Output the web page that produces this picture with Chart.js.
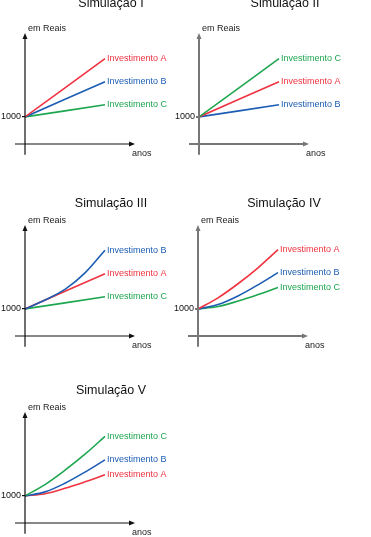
<!DOCTYPE html>
<html>
<head>
<meta charset="utf-8">
<script src="https://cdn.jsdelivr.net/npm/chart.js@4.4.0/dist/chart.umd.min.js"></script>
<style>
  html, body { margin: 0; padding: 0; background: #fff; overflow: hidden; }
  body { width: 371px; height: 537px; position: relative; }
  .box { position: absolute; width: 200px; }
</style>
</head>
<body>
<div class="box" style="left:0px;top:-4px;height:170px"><canvas id="sim1"></canvas></div>
<div class="box" style="left:174px;top:-4px;height:170px"><canvas id="sim2"></canvas></div>
<div class="box" style="left:0px;top:196px;height:162px"><canvas id="sim3"></canvas></div>
<div class="box" style="left:173px;top:196px;height:162px"><canvas id="sim4"></canvas></div>
<div class="box" style="left:0px;top:383px;height:162px"><canvas id="sim5"></canvas></div>
<script>
// years on the x axis (straight lines only need both ends)
const lineYears = [0, 8];
const curveYears = [0, 2, 4, 6, 8];
const yTicks = [1000];
const titles = ['Simulação I', 'Simulação II', 'Simulação III', 'Simulação IV', 'Simulação V'];
const names = ['Investimento A', 'Investimento B', 'Investimento C'];

// values in reais
const sim1A = [1000, 3150];
const sim1B = [1000, 2300];
const sim1C = [1000, 1450];

const sim2A = [1000, 2300];
const sim2B = [1000, 1450];
const sim2C = [1000, 3150];

const sim3A = [1000, 2300];
const sim3B = [1000, 1330, 1720, 2330, 3170];
const sim3C = [1000, 1450];

const sim4A = [1000, 1410, 1930, 2520, 3190];
const sim4B = [1000, 1160, 1480, 1890, 2340];
const sim4C = [1000, 1090, 1290, 1530, 1790];

const sim5A = [1000, 1080, 1280, 1520, 1780];
const sim5B = [1000, 1150, 1470, 1880, 2330];
const sim5C = [1000, 1420, 1950, 2540, 3200];

const red = '#ef3340';
const blue = '#1c5db4';
const green = '#1ea650';
const font = 'Liberation Sans, Arial, sans-serif';

Chart.defaults.font.family = font;

// axes with arrow heads + the small texts
const arrowAxes = {
    id: 'arrowAxes',
    afterDraw(chart, args, opts) {
        const ctx = chart.ctx;
        const xs = chart.scales.x;
        const ys = chart.scales.y;
        const x0 = xs.getPixelForValue(0);
        const y0 = ys.getPixelForValue(0);
        const xl = xs.getPixelForValue(-1);
        const xr = xs.getPixelForValue(11);
        const yt = ys.getPixelForValue(4100);
        const yb = ys.getPixelForValue(-400);
        ctx.save();
        ctx.strokeStyle = opts.color;
        ctx.fillStyle = opts.color;
        ctx.lineWidth = opts.width;
        ctx.beginPath();
        ctx.moveTo(xl, y0);
        ctx.lineTo(xr - 5, y0);
        ctx.moveTo(x0, yb);
        ctx.lineTo(x0, yt + 5);
        ctx.stroke();
        // arrow heads
        ctx.beginPath();
        ctx.moveTo(xr, y0);
        ctx.lineTo(xr - 6, y0 - 2.5);
        ctx.lineTo(xr - 6, y0 + 2.5);
        ctx.closePath();
        ctx.fill();
        ctx.beginPath();
        ctx.moveTo(x0, yt);
        ctx.lineTo(x0 - 2.5, yt + 6);
        ctx.lineTo(x0 + 2.5, yt + 6);
        ctx.closePath();
        ctx.fill();

        ctx.font = '9px ' + font;
        ctx.fillStyle = '#222';
        ctx.textBaseline = 'alphabetic';
        ctx.textAlign = 'left';
        ctx.fillText('em Reais', x0 + 3, yt - 2);
        ctx.fillText('anos', xr - 3, y0 + 12);

        // series names at the end of each line
        ctx.textBaseline = 'middle';
        chart.data.datasets.forEach((ds, i) => {
            const pts = chart.getDatasetMeta(i).data;
            const last = pts[pts.length - 1];
            ctx.fillStyle = ds.borderColor;
            ctx.fillText(ds.label, last.x + 2, last.y);
        });
        ctx.restore();
    }
};

function series(name, color, years, values) {
    return {
        label: name,
        data: years.map((x, i) => ({ x: x, y: values[i] })),
        borderColor: color,
        borderWidth: 1.6,
        pointRadius: 0,
        fill: false,
        tension: 0.35
    };
}

function makeChart(id, title, titleGap, axisColor, axisWidth, datasets) {
    return new Chart(document.getElementById(id), {
        type: 'line',
        data: { datasets: datasets },
        options: {
            responsive: true,
            maintainAspectRatio: false,
            animation: false,
            layout: { padding: { left: 0, right: 3, top: 0, bottom: 22 } },
            plugins: {
                legend: { display: false },
                tooltip: { enabled: false },
                title: {
                    display: true,
                    text: title,
                    fullSize: false,
                    color: '#111',
                    font: { size: 12.5, weight: 'normal', lineHeight: 1.2 },
                    padding: { top: 0, bottom: titleGap }
                },
                arrowAxes: { color: axisColor, width: axisWidth }
            },
            scales: {
                x: { type: 'linear', display: false, min: 0, max: 17.2 },
                y: {
                    type: 'linear',
                    min: 0,
                    max: 4100,
                    afterBuildTicks: s => { s.ticks = yTicks.map(v => ({ value: v })); },
                    afterFit: s => { s.width = 25; },
                    ticks: { color: '#111', font: { size: 9 }, padding: 1, callback: v => String(v) },
                    grid: { drawOnChartArea: false, drawTicks: true, tickLength: 3, color: axisColor, lineWidth: axisWidth },
                    border: { display: false }
                }
            }
        },
        plugins: [arrowAxes]
    });
}

makeChart('sim1', titles[0], 22, '#111', 1.2, [
    series(names[0], red, lineYears, sim1A),
    series(names[1], blue, lineYears, sim1B),
    series(names[2], green, lineYears, sim1C)
]);
makeChart('sim2', titles[1], 22, '#777', 2, [
    series(names[2], green, lineYears, sim2C),
    series(names[0], red, lineYears, sim2A),
    series(names[1], blue, lineYears, sim2B)
]);
makeChart('sim3', titles[2], 14, '#111', 1.2, [
    series(names[1], blue, curveYears, sim3B),
    series(names[0], red, lineYears, sim3A),
    series(names[2], green, lineYears, sim3C)
]);
makeChart('sim4', titles[3], 14, '#777', 2, [
    series(names[0], red, curveYears, sim4A),
    series(names[1], blue, curveYears, sim4B),
    series(names[2], green, curveYears, sim4C)
]);
makeChart('sim5', titles[4], 14, '#111', 1.2, [
    series(names[2], green, curveYears, sim5C),
    series(names[1], blue, curveYears, sim5B),
    series(names[0], red, curveYears, sim5A)
]);
</script>
</body>
</html>
